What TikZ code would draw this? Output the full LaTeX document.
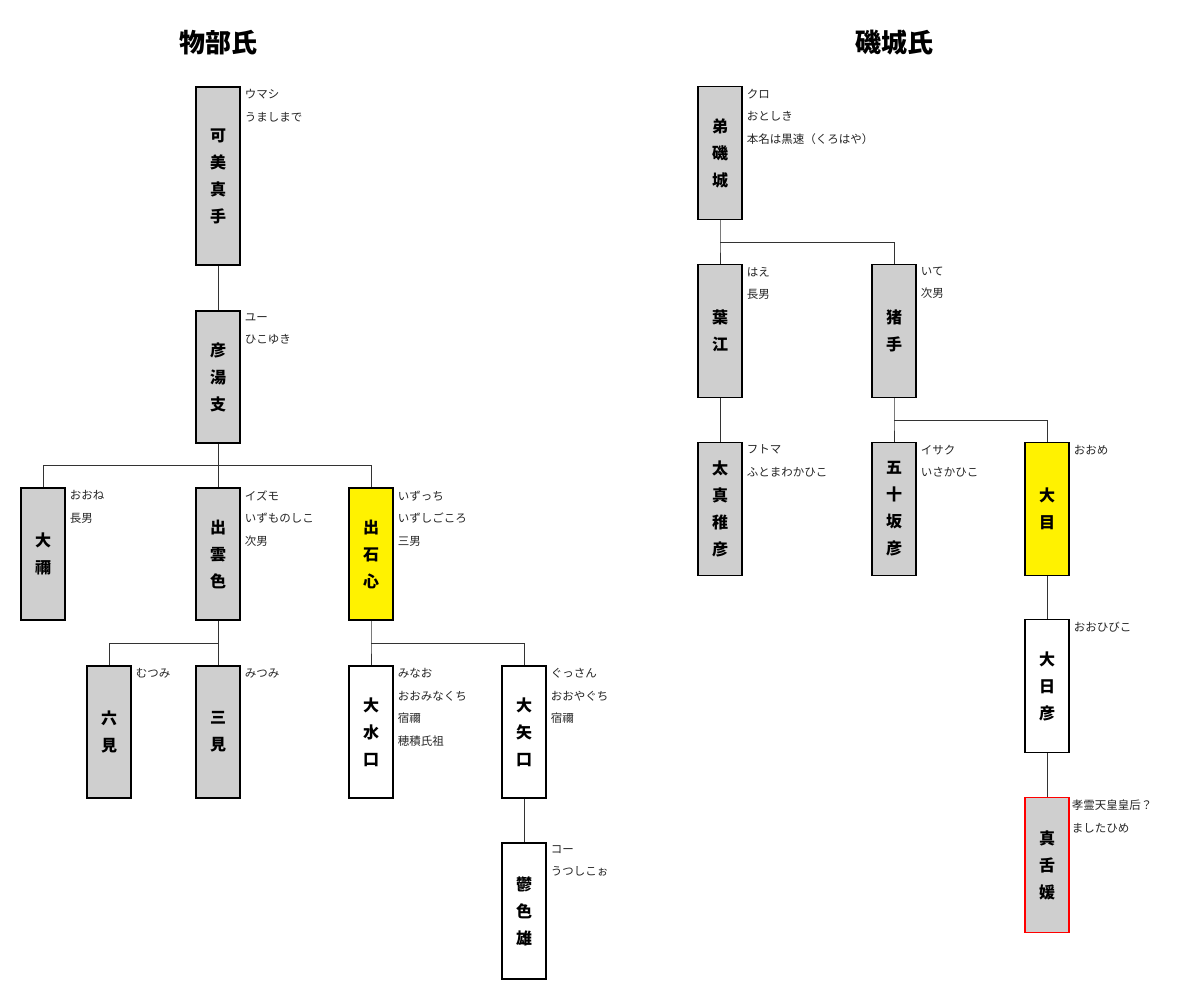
\documentclass[tikz,border=0pt]{standalone}
\usepackage{fontspec}
\newfontfamily\cjk{Noto Sans CJK JP}
\begin{document}
\begin{tikzpicture}[x=1pt,y=-1pt,
  box/.style={draw=black,line width=1.3pt,fill=gray!38,minimum width=44pt,inner sep=0pt,align=center,font=\cjk\bfseries\fontsize{16}{27}\selectfont},
  wbox/.style={box,fill=white},
  ybox/.style={box,fill=yellow},
  rbox/.style={box,draw=red},
  note/.style={anchor=north west,align=left,inner sep=0pt,text=black!85,font=\cjk\fontsize{11.5}{22.5}\selectfont},
  ttl/.style={font=\cjk\bfseries\fontsize{26}{30}\selectfont},
  ln/.style={draw=black!80,line width=0.8pt}]
\useasboundingbox (0,0) rectangle (1200,1003);
\fill[white] (0,0) rectangle (1200,1003);
\node[ttl] (t1) at (218,43) {物部氏};
\node[ttl] (t2) at (894,43) {磯城氏};
% left
\node[box,minimum height=178pt] (a) at (218,176) {可\\美\\真\\手};
\node[box,minimum height=132pt] (b) at (218,377) {彦\\湯\\支};
\node[box,minimum height=132pt] (c1) at (43,554) {大\\禰};
\node[box,minimum height=132pt] (c2) at (218,554) {出\\雲\\色};
\node[ybox,minimum height=132pt] (c3) at (371,554) {出\\石\\心};
\node[box,minimum height=132pt] (d1) at (109,732) {六\\見};
\node[box,minimum height=132pt] (d2) at (218,732) {三\\見};
\node[wbox,minimum height=132pt] (d3) at (371,732) {大\\水\\口};
\node[wbox,minimum height=132pt] (d4) at (524,732) {大\\矢\\口};
\node[wbox,minimum height=136pt] (e1) at (524,911) {鬱\\色\\雄};
% right
\node[box,minimum height=133pt] (r1) at (720,153) {弟\\磯\\城};
\node[box,minimum height=133pt] (r2) at (720,331) {葉\\江};
\node[box,minimum height=133pt] (r3) at (894,331) {猪\\手};
\node[box,minimum height=133pt] (r4) at (720,509) {太\\真\\稚\\彦};
\node[box,minimum height=133pt] (r5) at (894,509) {五\\十\\坂\\彦};
\node[ybox,minimum height=133pt] (r6) at (1047,509) {大\\目};
\node[wbox,minimum height=133pt] (r7) at (1047,686) {大\\日\\彦};
\node[rbox,minimum height=135pt] (r8) at (1047,865) {真\\舌\\媛};
% connectors
\draw[ln] (a.south) -- (b.north);
\draw[ln] (b.south) -- (218,465) -| (c1.north);
\draw[ln] (218,465) -- (c2.north);
\draw[ln] (218,465) -| (c3.north);
\draw[ln] (c2.south) -- (218,643) -| (d1.north);
\draw[ln] (218,643) -- (d2.north);
\draw[ln] (c3.south) -- (371,643) -- (d3.north);
\draw[ln] (371,643) -| (d4.north);
\draw[ln] (d4.south) -- (e1.north);
\draw[ln] (r1.south) -- (720,242) -- (r2.north);
\draw[ln] (720,242) -| (r3.north);
\draw[ln] (r2.south) -- (r4.north);
\draw[ln] (r3.south) -- (894,420) -- (r5.north);
\draw[ln] (894,420) -| (r6.north);
\draw[ln] (r6.south) -- (r7.north);
\draw[ln] (r7.south) -- (r8.north);
% notes
\node[note] (na) at ([xshift=4pt,yshift=-3pt]a.north east) {ウマシ\\うましまで};
\node[note] (nb) at ([xshift=4pt,yshift=-3pt]b.north east) {ユー\\ひこゆき};
\node[note] (nc1) at ([xshift=4pt,yshift=-3pt]c1.north east) {おおね\\長男};
\node[note] (nc2) at ([xshift=4pt,yshift=-3pt]c2.north east) {イズモ\\いずものしこ\\次男};
\node[note] (nc3) at ([xshift=4pt,yshift=-3pt]c3.north east) {いずっち\\いずしごころ\\三男};
\node[note] (nd1) at ([xshift=4pt,yshift=-3pt]d1.north east) {むつみ};
\node[note] (nd2) at ([xshift=4pt,yshift=-3pt]d2.north east) {みつみ};
\node[note] (nd3) at ([xshift=4pt,yshift=-3pt]d3.north east) {みなお\\おおみなくち\\宿禰\\穂積氏祖};
\node[note] (nd4) at ([xshift=4pt,yshift=-3pt]d4.north east) {ぐっさん\\おおやぐち\\宿禰};
\node[note] (ne1) at ([xshift=4pt,yshift=-3pt]e1.north east) {コー\\うつしこぉ};
\node[note] (nr1) at ([xshift=4pt,yshift=-3pt]r1.north east) {クロ\\おとしき\\本名は黒速（くろはや）};
\node[note] (nr2) at ([xshift=4pt,yshift=-3pt]r2.north east) {はえ\\長男};
\node[note] (nr3) at ([xshift=4pt,yshift=-3pt]r3.north east) {いて\\次男};
\node[note] (nr4) at ([xshift=4pt,yshift=-3pt]r4.north east) {フトマ\\ふとまわかひこ};
\node[note] (nr5) at ([xshift=4pt,yshift=-3pt]r5.north east) {イサク\\いさかひこ};
\node[note] (nr6) at ([xshift=4pt,yshift=-3pt]r6.north east) {おおめ};
\node[note] (nr7) at ([xshift=4pt,yshift=-3pt]r7.north east) {おおひびこ};
\node[note] (nr8) at ([xshift=2pt,yshift=-3pt]r8.north east) {孝霊天皇皇后？\\ましたひめ};
\end{tikzpicture}
\end{document}
